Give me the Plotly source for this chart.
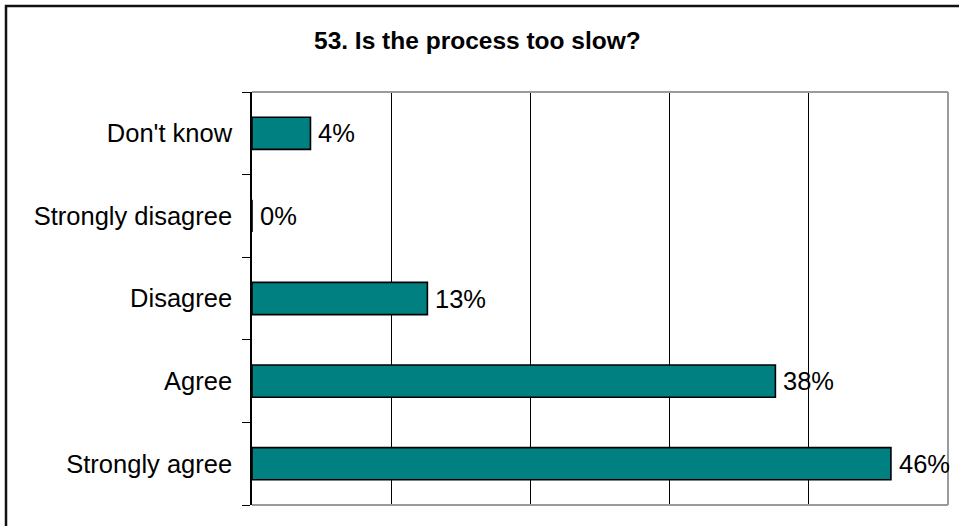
import plotly.graph_objects as go

# Survey responses, bottom to top
categories = ["Strongly agree", "Agree", "Disagree", "Strongly disagree", "Don't know"]
percentages = [45.9, 37.6, 12.6, 0.0, 4.2]
title_text = "53. Is the process too slow?"

W, H = 959, 526
L, R, T, B = 252, 11, 92, 21
plot_w = W - L - R
plot_h = H - T - B

def px_x(p):
    return (p - L) / plot_w

def px_y(p):
    return (H - B - p) / plot_h

FONT = "Liberation Sans, Arial, sans-serif"
LABEL_SIZE = 25.5

fig = go.Figure(
    go.Bar(
        x=percentages,
        y=categories,
        orientation="h",
        width=0.39,
        marker=dict(color="#008080", line=dict(color="black", width=1.6)),
        hoverinfo="x+y",
    )
)

# value labels to the right of each bar
value_labels = [
    dict(
        x=v, y=c, xref="x", yref="y",
        text=f"{v:.0f}%",
        xanchor="left", yanchor="middle",
        xshift=6, showarrow=False,
        font=dict(family=FONT, size=LABEL_SIZE, color="black"),
    )
    for c, v in zip(categories, percentages)
]

fig.update_layout(
    width=W,
    height=H,
    margin=dict(l=L, r=R, t=T, b=B),
    paper_bgcolor="white",
    plot_bgcolor="white",
    showlegend=False,
    font=dict(family=FONT, size=LABEL_SIZE, color="black"),
    xaxis=dict(
        range=[0, 50],
        dtick=10,
        showgrid=True,
        gridcolor="black",
        gridwidth=1,
        showticklabels=False,
        zeroline=False,
        showline=False,
        ticks="",
    ),
    yaxis=dict(
        categoryorder="array",
        categoryarray=categories,
        showgrid=False,
        showline=True,
        linecolor="black",
        linewidth=1.5,
        ticks="outside",
        tickson="boundaries",
        ticklen=8,
        tickcolor="black",
        tickwidth=1,
        ticklabelstandoff=13,
        tickfont=dict(family=FONT, size=LABEL_SIZE, color="black"),
    ),
    shapes=[
        # gray plot frame: top, right, bottom
        dict(type="line", xref="paper", yref="paper", x0=0, x1=1, y0=1, y1=1,
             line=dict(color="#9a9a9a", width=2), layer="above"),
        dict(type="line", xref="paper", yref="paper", x0=1, x1=1, y0=0, y1=1,
             line=dict(color="#9a9a9a", width=2), layer="above"),
        dict(type="line", xref="paper", yref="paper", x0=0, x1=1, y0=0, y1=0,
             line=dict(color="#9a9a9a", width=2), layer="above"),
        # outer chart border
        dict(type="rect", xref="paper", yref="paper",
             x0=px_x(6), x1=px_x(W + 20), y0=px_y(H + 20), y1=px_y(6),
             line=dict(color="#111111", width=2.5), layer="above"),
    ],
    annotations=value_labels + [
        dict(
            text="<b>" + title_text + "</b>",
            xref="paper", yref="paper",
            x=px_x(477.5), y=px_y(40),
            xanchor="center", yanchor="middle",
            showarrow=False,
            font=dict(family=FONT, size=24.5, color="black"),
        )
    ],
)

fig.write_html("out.html")
